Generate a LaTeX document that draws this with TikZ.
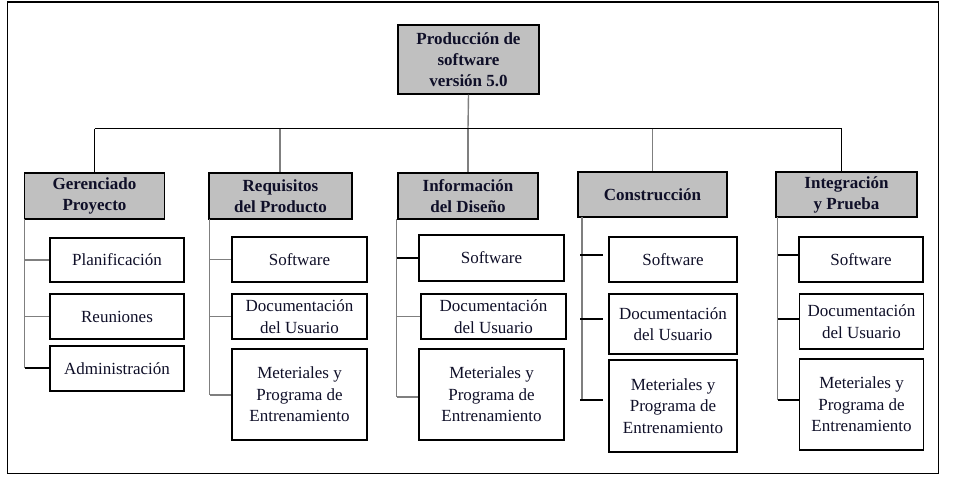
\documentclass[tikz,border=0pt]{standalone}
\usepackage{fontspec}
\setmainfont{Liberation Serif}
\definecolor{boxfill}{HTML}{C0C0C0}
\definecolor{lgray}{HTML}{7F7F7F}
\definecolor{txt}{RGB}{15,15,40}
\begin{document}
\begin{tikzpicture}[x=1pt,y=-1pt,
  every node/.style={font=\fontsize{17}{21.5}\selectfont, text=txt, align=center, inner sep=0pt},
  box/.style={draw=black, line width=1.1pt, fill=white, rectangle},
  hbox/.style={box, fill=boxfill, font=\fontsize{17}{21}\selectfont\bfseries},
  bl/.style={draw=black, line width=1.1pt},
  gl/.style={draw=lgray, line width=1.4pt}]
\useasboundingbox (0,0) rectangle (979,480);
\draw[line width=1.1pt] (7.5,2) rectangle (938.5,473.5);

% root
\node[hbox, minimum width=141pt, minimum height=69pt] (root) at (468.5,59.5) {Producción de\\software\\versión 5.0};

% level 2
\node[hbox, minimum width=140pt, minimum height=46pt] (g1) at (94.5,196) {Gerenciado\\Proyecto};
\node[hbox, minimum width=143pt, minimum height=46pt] (g2) at (280.5,196) {Requisitos\\del Producto};
\node[hbox, minimum width=140pt, minimum height=46pt] (g3) at (468,196) {Información\\del Diseño};
\node[hbox, minimum width=149pt, minimum height=45pt] (g4) at (652.5,194.5) {Construcción};
\node[hbox, minimum width=141pt, minimum height=45pt] (g5) at (846.5,194.5) {Integración\\y Prueba};

% bus
\coordinate (b1) at (94.5,128.5);
\coordinate (b2) at (280,128.5);
\coordinate (b3) at (468,128.5);
\coordinate (b4) at (652.5,128.5);
\coordinate (b5) at (841.5,128.5);
\draw[gl] (root.south) -- (b3);
\draw[bl] (b1) -- (b5);
\draw[bl] (b1) -- (b1 |- g1.north);
\draw[gl] (b2) -- (b2 |- g2.north);
\draw[gl] (b3) -- (b3 |- g3.north);
\draw[gl] (b4) -- (b4 |- g4.north);
\draw[bl] (b5) -- (b5 |- g5.north);

% column 1
\node[box, minimum width=134pt, minimum height=44pt] (p1) at (117,260) {Planificación};
\node[box, minimum width=134pt, minimum height=45pt] (r1) at (117,316.5) {Reuniones};
\node[box, minimum width=134pt, minimum height=45pt] (a1) at (117,368.5) {Administración};
\coordinate (v1t) at (24.5,219);
\coordinate (v1b) at (24.5,368);
\draw[gl] (v1t) -- (v1b);
\draw[gl] (v1t |- p1.west) -- (p1.west);
\draw[gl] (v1t |- r1.west) -- (r1.west);
\draw[bl] (v1b) -- (v1b -| a1.west);

% column 2
\node[box, minimum width=135pt, minimum height=45pt] (s2) at (299.5,259.5) {Software};
\node[box, minimum width=135pt, minimum height=45pt] (d2) at (299.5,316.5) {Documentación\\del Usuario};
\node[box, minimum width=135pt, minimum height=91pt] (m2) at (299.5,394.5) {Meteriales y\\Programa de\\Entrenamiento};
\coordinate (v2t) at (209.5,219);
\coordinate (v2b) at (209.5,395);
\draw[gl] (v2t) -- (v2b);
\draw[gl] (v2t |- s2.west) -- (s2.west);
\draw[gl] (v2t |- d2.west) -- (d2.west);
\draw[gl] (v2b) -- (v2b -| m2.west);

% column 3
\node[box, minimum width=145pt, minimum height=46pt] (s3) at (491.5,258) {Software};
\node[box, minimum width=145pt, minimum height=45pt] (d3) at (493.5,316.5) {Documentación\\del Usuario};
\node[box, minimum width=145pt, minimum height=91pt] (m3) at (491.5,394.5) {Meteriales y\\Programa de\\Entrenamiento};
\coordinate (v3t) at (396.5,219);
\coordinate (v3b) at (396.5,397);
\draw[gl] (v3t) -- (v3b);
\draw[bl] (v3t |- s3.west) -- (s3.west);
\draw[gl] (v3t |- d3.west) -- (d3.west);
\draw[gl] (v3b) -- (v3b -| m3.west);

% column 4
\node[box, minimum width=128pt, minimum height=45pt] (s4) at (673,259.5) {Software};
\node[box, minimum width=128pt, minimum height=60pt] (d4) at (673,324) {Documentación\\del Usuario};
\node[box, minimum width=128pt, minimum height=92pt] (m4) at (673,406) {Meteriales y\\Programa de\\Entrenamiento};
\coordinate (v4t) at (582,217);
\coordinate (v4b) at (582,400);
\draw[gl] (v4t) -- (v4b);
\coordinate (t4a) at (603,255);
\coordinate (t4b) at (603,319);
\coordinate (t4c) at (603,400);
\draw[bl] ([xshift=-2pt]v4t |- t4a) -- (t4a);
\draw[bl] ([xshift=-2pt]v4t |- t4b) -- (t4b);
\draw[bl] ([xshift=-2pt]v4b) -- (t4c);

% column 5
\node[box, minimum width=124pt, minimum height=45pt] (s5) at (861,259.5) {Software};
\node[box, minimum width=124pt, minimum height=55pt] (d5) at (861.5,321.5) {Documentación\\del Usuario};
\node[box, minimum width=124pt, minimum height=91pt] (m5) at (861.5,404.5) {Meteriales y\\Programa de\\Entrenamiento};
\coordinate (v5t) at (777.5,217);
\coordinate (v5b) at (777.5,400);
\draw[gl] (v5t) -- (v5b);
\draw[bl] (v5t |- 0,255) -- (s5.west |- 0,255);
\draw[bl] (v5t |- 0,319) -- (d5.west |- 0,319);
\draw[bl] (v5b) -- (v5b -| m5.west);
\end{tikzpicture}
\end{document}
